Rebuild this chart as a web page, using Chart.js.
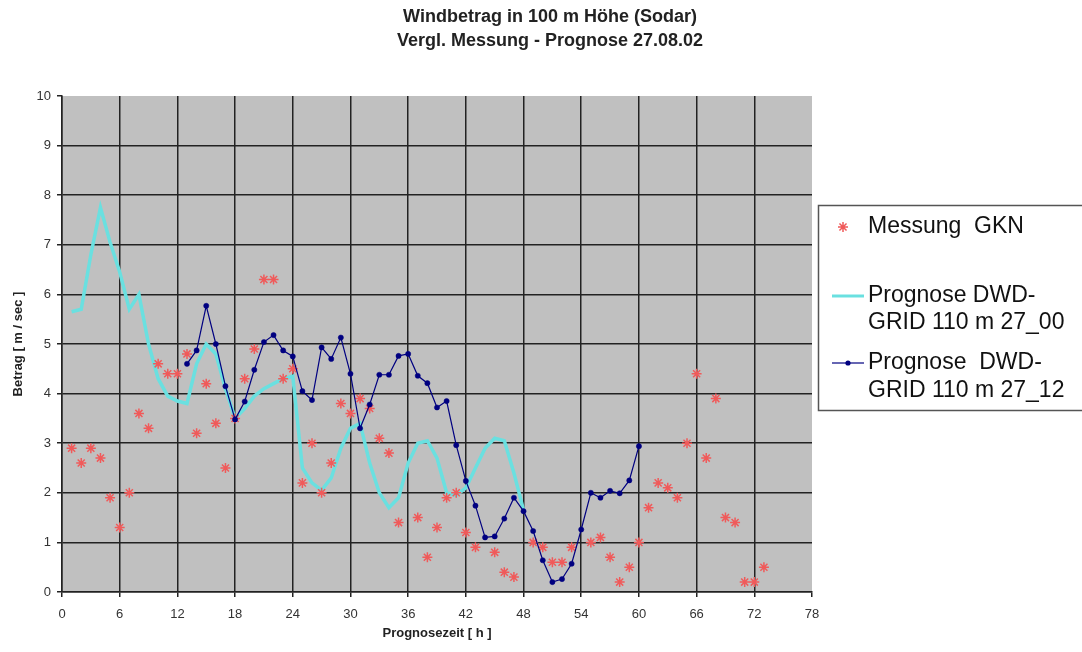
<!DOCTYPE html>
<html>
<head>
<meta charset="utf-8">
<title>Windbetrag in 100 m Höhe (Sodar)</title>
<script src="https://cdn.jsdelivr.net/npm/chart.js@4.4.1/dist/chart.umd.min.js"></script>
<style>
  html, body { margin: 0; padding: 0; background: #fff; }
  #wrap { width: 1082px; height: 652px; }
</style>
</head>
<body>
<div id="wrap"><canvas id="chart" width="1082" height="652"></canvas></div>
<script>
  // hours of the forecast / measurement
  const hours = [1, 2, 3, 4, 5, 6, 7, 8, 9, 10, 11, 12, 13, 14, 15, 16, 17, 18, 19, 20,
    21, 22, 23, 24, 25, 26, 27, 28, 29, 30, 31, 32, 33, 34, 35, 36, 37, 38, 39, 40,
    41, 42, 43, 44, 45, 46, 47, 48, 49, 50, 51, 52, 53, 54, 55, 56, 57, 58, 59, 60,
    61, 62, 63, 64, 65, 66, 67, 68, 69, 70, 71, 72, 73];

  // Messung GKN, hours 1..73
  const messung = [2.9, 2.6, 2.9, 2.7, 1.9, 1.3, 2.0, 3.6, 3.3, 4.6, 4.4, 4.4, 4.8, 3.2, 4.2, 3.4, 2.5, 3.5, 4.3, 4.9,
    6.3, 6.3, 4.3, 4.5, 2.2, 3.0, 2.0, 2.6, 3.8, 3.6, 3.9, 3.7, 3.1, 2.8, 1.4, null, 1.5, 0.7, 1.3, 1.9,
    2.0, 1.2, 0.9, null, 0.8, 0.4, 0.3, null, 1.0, 0.9, 0.6, 0.6, 0.9, null, 1.0, 1.1, 0.7, 0.2, 0.5, 1.0,
    1.7, 2.2, 2.1, 1.9, 3.0, 4.4, 2.7, 3.9, 1.5, 1.4, 0.2, 0.2, 0.5];

  // Prognose 27_00, hours 1..48
  const prog00 = [5.65, 5.7, 6.8, 7.75, 7.05, 6.45, 5.7, 6.0, 5.0, 4.3, 3.95, 3.85, 3.8, 4.6, 5.0, 4.8, 4.1, 3.5, 3.7, 3.95,
    4.1, 4.2, 4.3, 4.35, 2.5, 2.2, 2.05, 2.3, 2.9, 3.3, 3.4, 2.6, 2.0, 1.7, 1.9, 2.6, 3.0, 3.05, 2.7, 2.0,
    1.95, 2.1, 2.5, 2.9, 3.1, 3.05, 2.4, 1.65];

  // Prognose 27_12, hours 13..60
  const prog12 = [4.6, 4.87, 5.77, 5.0, 4.15, 3.48, 3.84, 4.48, 5.04, 5.18, 4.87, 4.75, 4.05, 3.87, 4.93, 4.7, 5.13, 4.4, 3.3, 3.78,
    4.38, 4.38, 4.76, 4.8, 4.36, 4.21, 3.72, 3.85, 2.96, 2.24, 1.74, 1.1, 1.12, 1.48, 1.9, 1.63, 1.23, 0.64, 0.2, 0.26,
    0.57, 1.26, 2.0, 1.9, 2.04, 1.99, 2.25, 2.94];

  const titleLines = ["Windbetrag in 100 m Höhe (Sodar)", "Vergl. Messung - Prognose 27.08.02"];
  const xTitle = "Prognosezeit [ h ]";
  const yTitle = "Betrag [ m / sec ]";
  const legendLabels = [["Messung  GKN"], ["Prognose DWD-", "GRID 110 m 27_00"], ["Prognose  DWD-", "GRID 110 m 27_12"]];

  const FONT = "'Liberation Sans', Arial, sans-serif";
  const RED = "#f05a5a";
  const CYAN = "#6ae0e0";
  const NAVY = "#000080";
  const GRID = "#222";

  Chart.defaults.font.family = FONT;

  const toPoints = (xs, ys) => ys.map((v, i) => ({ x: xs[i], y: v }));

  const plotBg = {
    id: "plotBg",
    beforeDraw(chart) {
      const { ctx, chartArea: a } = chart;
      ctx.save();
      ctx.fillStyle = "#c0c0c0";
      ctx.fillRect(a.left, a.top, a.right - a.left, a.bottom - a.top);
      ctx.restore();
    },
  };

  const decor = {
    id: "decor",
    afterDraw(chart) {
      const ctx = chart.ctx;
      ctx.save();
      // title
      ctx.fillStyle = "#222";
      ctx.textAlign = "center";
      ctx.textBaseline = "middle";
      ctx.font = "bold 18px " + FONT;
      ctx.fillText(titleLines[0], 550, 17);
      ctx.fillText(titleLines[1], 550, 41);

      // legend box
      const lx = 818, ly = 205;
      ctx.fillStyle = "#fff";
      ctx.fillRect(lx, ly, 300, 205);
      ctx.strokeStyle = "#555";
      ctx.lineWidth = 1.5;
      ctx.strokeRect(lx + 0.5, ly + 0.5, 300, 205);

      ctx.font = "23px " + FONT;
      ctx.textAlign = "left";

      // Messung
      ctx.strokeStyle = RED;
      ctx.fillStyle = RED;
      Chart.helpers.drawPoint(ctx, { pointStyle: "star", radius: 5, borderWidth: 1.5, rotation: 0 }, 843, 227);
      ctx.fillStyle = "#111";
      ctx.fillText(legendLabels[0][0], 868, 227);

      // 27_00
      ctx.strokeStyle = CYAN;
      ctx.lineWidth = 3;
      ctx.beginPath();
      ctx.moveTo(832, 296);
      ctx.lineTo(864, 296);
      ctx.stroke();
      ctx.fillText(legendLabels[1][0], 868, 296);
      ctx.fillText(legendLabels[1][1], 868, 323);

      // 27_12
      ctx.strokeStyle = NAVY;
      ctx.lineWidth = 1.2;
      ctx.beginPath();
      ctx.moveTo(832, 363);
      ctx.lineTo(864, 363);
      ctx.stroke();
      ctx.fillStyle = NAVY;
      ctx.beginPath();
      ctx.arc(848, 363, 2.6, 0, Math.PI * 2);
      ctx.fill();
      ctx.fillStyle = "#111";
      ctx.fillText(legendLabels[2][0], 868, 363);
      ctx.fillText(legendLabels[2][1], 868, 391);
      ctx.restore();
    },
  };

  new Chart(document.getElementById("chart"), {
    type: "scatter",
    data: {
      datasets: [
        {
          label: "Prognose  DWD-GRID 110 m 27_12",
          data: toPoints(hours.slice(12, 60), prog12),
          showLine: true,
          borderColor: NAVY,
          backgroundColor: NAVY,
          borderWidth: 1.2,
          pointRadius: 2.6,
          pointBorderWidth: 0.5,
          order: 0,
        },
        {
          label: "Messung  GKN",
          data: toPoints(hours, messung),
          showLine: false,
          pointStyle: "star",
          pointRadius: 5,
          borderColor: RED,
          backgroundColor: RED,
          pointBorderWidth: 1.5,
          order: 1,
        },
        {
          label: "Prognose DWD-GRID 110 m 27_00",
          data: toPoints(hours.slice(0, 48), prog00),
          showLine: true,
          borderColor: CYAN,
          backgroundColor: CYAN,
          borderWidth: 3.5,
          pointRadius: 0,
          order: 2,
        },
      ],
    },
    options: {
      responsive: false,
      animation: false,
      events: [],
      layout: { padding: { left: 0, top: 96, right: 270, bottom: 0 } },
      plugins: {
        legend: { display: false },
        tooltip: { enabled: false },
      },
      scales: {
        x: {
          type: "linear",
          min: 0,
          max: 78,
          ticks: { stepSize: 6, color: "#333", font: { size: 13 }, padding: 10, maxRotation: 0, autoSkip: false },
          grid: {
            color: (c) => (c.tick && c.tick.value === 78 ? "rgba(0,0,0,0)" : GRID),
            lineWidth: 1.5,
            tickLength: 5,
            tickColor: GRID,
          },
          border: { color: GRID, width: 1.5 },
          title: { display: true, text: xTitle, color: "#222", font: { size: 13, weight: "bold" }, padding: { top: 0, bottom: 11 } },
          afterFit: (s) => { s.height = 60; },
        },
        y: {
          type: "linear",
          min: 0,
          max: 10,
          ticks: { stepSize: 1, color: "#333", font: { size: 13 }, padding: 6 },
          grid: {
            color: (c) => (c.tick && c.tick.value === 10 ? "rgba(0,0,0,0)" : GRID),
            lineWidth: 1.5,
            tickLength: 5,
            tickColor: GRID,
          },
          border: { color: GRID, width: 1.5 },
          title: { display: true, text: yTitle, color: "#222", font: { size: 13, weight: "bold" }, padding: { top: 11, bottom: 0 } },
          afterFit: (s) => { s.width = 62; },
        },
      },
    },
    plugins: [plotBg, decor],
  });
</script>
</body>
</html>
